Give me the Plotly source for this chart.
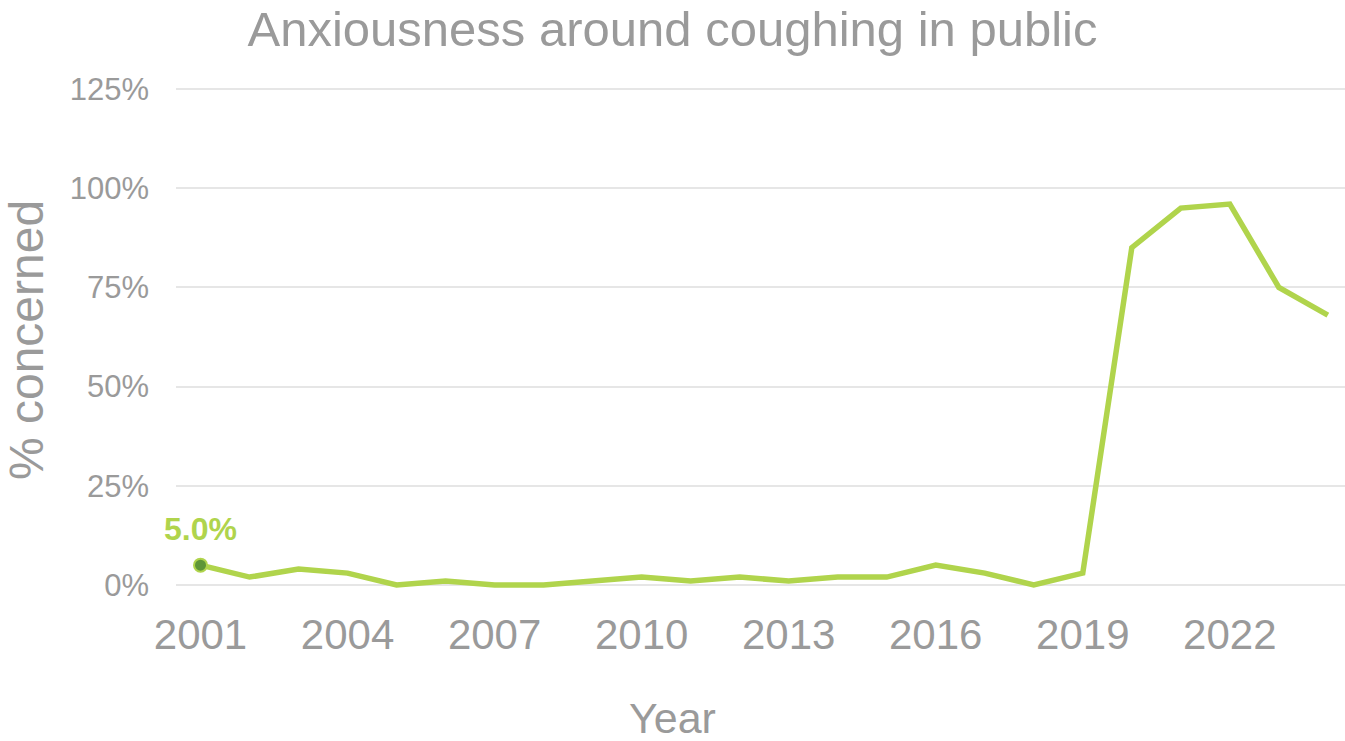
import plotly.graph_objects as go

years = list(range(2001, 2025))
concerned = [5, 2, 4, 3, 0, 1, 0, 0, 1, 2, 1, 2, 1, 2, 2, 5, 3, 0, 3, 85, 95, 96, 75, 68]
y_ticks = [0, 25, 50, 75, 100, 125]
x_ticks = list(range(2001, 2025, 3))

GRAY = "#9a9a9a"
LINE = "#b0d44c"
FONT = "Liberation Sans, Arial, sans-serif"

W, H = 1345, 741
ML, MR, MT, MB = 176, 0, 80, 141
plot_w = W - ML - MR
plot_h = H - MT - MB

fig = go.Figure()
fig.add_trace(go.Scatter(
    x=years, y=concerned, mode="lines",
    line=dict(color=LINE, width=5.5), hoverinfo="skip", showlegend=False,
))
fig.add_trace(go.Scatter(
    x=[years[0]], y=[concerned[0]], mode="markers",
    marker=dict(color="#5e9638", size=13, line=dict(color=LINE, width=2)),
    showlegend=False, hoverinfo="skip", cliponaxis=False,
))
fig.add_annotation(
    x=years[0], y=concerned[0], xref="x", yref="y",
    text=f"<b>{concerned[0]:.1f}%</b>", showarrow=False, yshift=36,
    font=dict(family=FONT, size=32, color=LINE),
)
fig.add_annotation(
    x=(W / 2 - ML) / plot_w, y=(H - MB - 718) / plot_h, xref="paper", yref="paper",
    text="Year", showarrow=False, yanchor="middle",
    font=dict(family=FONT, size=43, color=GRAY),
)

fig.update_layout(
    width=W, height=H,
    margin=dict(l=ML, r=MR, t=MT, b=MB),
    paper_bgcolor="white", plot_bgcolor="white",
    font=dict(family=FONT, color=GRAY),
    title=dict(text="Anxiousness around coughing in public", x=0.5, xanchor="center",
               y=1 - 29 / H, yanchor="middle",
               font=dict(family=FONT, size=49, color=GRAY)),
    xaxis=dict(
        range=[2000.5, 2024.35], tickmode="array", tickvals=x_ticks,
        ticktext=[str(v) for v in x_ticks],
        tickfont=dict(size=42, color=GRAY), showgrid=False, zeroline=False,
        showline=False, ticks="", ticklabelstandoff=6,
    ),
    yaxis=dict(
        range=[-3.78, 127.27], tickmode="array", tickvals=y_ticks,
        ticktext=[f"{v}%" for v in y_ticks],
        tickfont=dict(size=31, color=GRAY), showgrid=True, gridcolor="#e6e6e6",
        gridwidth=2, zeroline=False, showline=False, ticks="", ticklabelstandoff=26,
        title=dict(text="% concerned", font=dict(size=48, color=GRAY), standoff=14),
    ),
)

fig.write_html("out.html")
